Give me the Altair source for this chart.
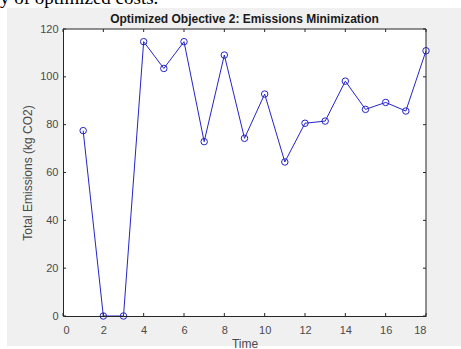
import altair as alt
import pandas as pd

# Data
time = list(range(1, 19))
emissions = [77.5, 0.0, 0.0, 114.7, 103.5, 114.7, 72.9, 109.1, 74.3,
             92.8, 64.4, 80.6, 81.5, 98.2, 86.4, 89.3, 85.7, 110.9]
x_ticks = [0, 2, 4, 6, 8, 10, 12, 14, 16, 18]
y_ticks = [0, 20, 40, 60, 80, 100, 120]
title_text = "Optimized Objective 2: Emissions Minimization"

W, H = 363, 287
AXC = "#262626"
LBC = "#4a4a4a"

df = pd.DataFrame({"Time": time, "Emissions": emissions})
xt = pd.DataFrame({"t": x_ticks})
yt = pd.DataFrame({"v": y_ticks})
one = pd.DataFrame({"a": [0]})

xs = alt.Scale(domain=[0, 18], nice=False, zero=False)
ys = alt.Scale(domain=[0, 120], nice=False)

# figure grey background (decoration)
bg = alt.Chart(one).mark_rect(color="#f0f0f0").encode(
    x=alt.value(-56), x2=alt.value(W + 35), y=alt.value(-21), y2=alt.value(H + 30)
)
plotbg = alt.Chart(one).mark_rect(color="white").encode(
    x=alt.value(0), x2=alt.value(W), y=alt.value(0), y2=alt.value(H)
)
# cut-off caption text at very top
caption = alt.Chart(one).mark_text(
    text="y of optimized costs.", font="Liberation Serif", fontSize=19,
    align="left", baseline="alphabetic", color="black"
).encode(x=alt.value(-63), y=alt.value(-25))
title = alt.Chart(one).mark_text(
    text=title_text, font="Liberation Sans", fontSize=12, fontWeight="bold",
    align="center", baseline="alphabetic", color="#1a1a1a"
).encode(x=alt.value(W / 2), y=alt.value(-6))

axis_common = dict(tickSize=0, grid=False, domainColor=AXC, labelColor=LBC,
                   titleColor=LBC, labelFontSize=11, titleFontSize=12,
                   titleFontWeight="normal", labelFont="Liberation Sans",
                   titleFont="Liberation Sans", zindex=1)

base = alt.Chart(df)
line = base.mark_line(color="#2424c8", strokeWidth=1).encode(
    x=alt.X("Time:Q", scale=xs,
            axis=alt.Axis(values=x_ticks, title="Time", labelPadding=8,
                          titlePadding=3, **axis_common)),
    y=alt.Y("Emissions:Q", scale=ys,
            axis=alt.Axis(values=y_ticks, title="Total Emissions (kg CO2)",
                          labelPadding=5, titlePadding=5, **axis_common)),
)
pts = base.mark_point(shape="circle", filled=False, color="#2424c8", size=42,
                      strokeWidth=1, opacity=1).encode(
    x=alt.X("Time:Q", scale=xs), y=alt.Y("Emissions:Q", scale=ys))

# box edges (top, right)
top_edge = alt.Chart(one).mark_rule(color=AXC).encode(
    x=alt.value(0), x2=alt.value(W), y=alt.value(0))
right_edge = alt.Chart(one).mark_rule(color=AXC).encode(
    x=alt.value(W), y=alt.value(0), y2=alt.value(H))

# inward ticks
xt_bot = alt.Chart(xt).mark_rule(color=AXC).encode(
    x=alt.X("t:Q", scale=xs), y=alt.value(H), y2=alt.value(H - 3))
xt_top = alt.Chart(xt).mark_rule(color=AXC).encode(
    x=alt.X("t:Q", scale=xs), y=alt.value(0), y2=alt.value(3))
yt_l = alt.Chart(yt).mark_rule(color=AXC).encode(
    y=alt.Y("v:Q", scale=ys), x=alt.value(0), x2=alt.value(3))
yt_r = alt.Chart(yt).mark_rule(color=AXC).encode(
    y=alt.Y("v:Q", scale=ys), x=alt.value(W), x2=alt.value(W - 3))

chart = alt.layer(bg, plotbg, caption, title, line, pts, top_edge, right_edge,
                  xt_bot, xt_top, yt_l, yt_r).properties(
    width=W, height=H,
    autosize=alt.AutoSizeParams(type="none"),
    padding={"left": 63, "top": 29, "right": 35, "bottom": 33},
    background="white",
).configure_view(stroke=None)

chart.save("out.html", embed_options={"renderer": "svg", "actions": False})
